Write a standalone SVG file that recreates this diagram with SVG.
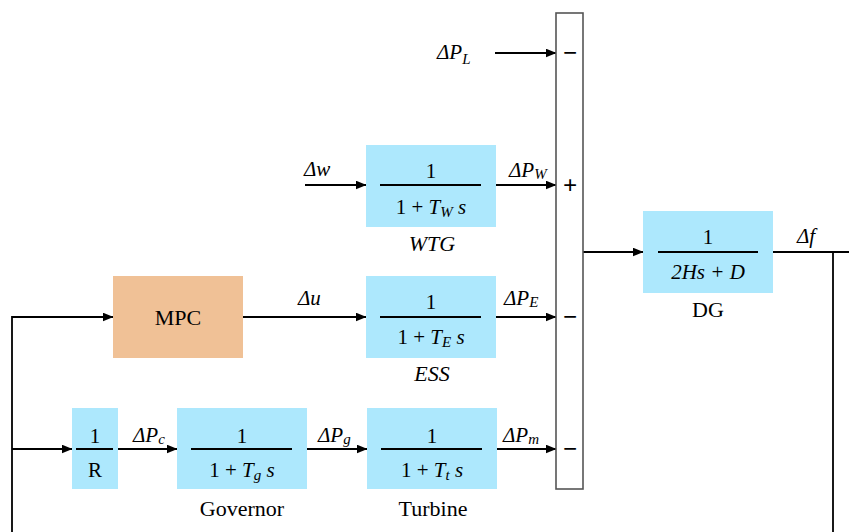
<svg xmlns="http://www.w3.org/2000/svg" width="849" height="532" viewBox="0 0 849 532" font-family="'Liberation Serif', Tinos, 'DejaVu Serif', serif">
  <style>
    .blk { fill: #ADE8FD; }
    .mpc { fill: #F0C196; }
    .frac { stroke: #000; stroke-width: 2; }
    .wire { stroke: #000; stroke-width: 1.8; fill: none; }
    .arr { marker-end: url(#ah); }
    text { font-family: 'Liberation Serif', Tinos, 'DejaVu Serif', serif; font-size: 21px; fill: #000; }
    .it { font-style: italic; }
    .sub { font-size: 15px; font-style: italic; }
    .mid { text-anchor: middle; }
    .cap { font-size: 22px; }
    .sign { font-size: 25px; font-weight: bold; text-anchor: middle; }
  </style>
  <defs>
    <marker id="ah" markerUnits="userSpaceOnUse" markerWidth="11" markerHeight="9" refX="10.5" refY="4.5" orient="auto">
      <path d="M0,0 L11,4.5 L0,9 z" fill="#000"/>
    </marker>
  </defs>

  <rect width="849" height="532" fill="#fff"/>

  <!-- connectors -->
  <g id="connectors">
    <line class="wire arr" x1="495" y1="53" x2="556" y2="53"/>
    <line class="wire arr" x1="305" y1="185" x2="366" y2="185"/>
    <line class="wire arr" x1="496" y1="185" x2="556" y2="185"/>
    <line class="wire arr" x1="243" y1="317" x2="366" y2="317"/>
    <line class="wire arr" x1="496" y1="317" x2="556" y2="317"/>
    <line class="wire arr" x1="12" y1="449" x2="72" y2="449"/>
    <line class="wire arr" x1="118" y1="449" x2="177" y2="449"/>
    <line class="wire arr" x1="307" y1="449" x2="367" y2="449"/>
    <line class="wire arr" x1="497" y1="449" x2="556" y2="449"/>
    <polyline class="wire arr" points="12,532 12,317 113,317"/>
    <line class="wire arr" x1="583" y1="252" x2="643" y2="252"/>
    <line class="wire" x1="773" y1="252" x2="849" y2="252"/>
    <line class="wire" x1="833" y1="252" x2="833" y2="532"/>

    <!-- signal labels -->
    <text class="it" x="437" y="59">ΔP<tspan class="sub" dy="5">L</tspan></text>
    <text class="it" x="304" y="176">Δw</text>
    <text class="it" x="509" y="177">ΔP<tspan class="sub" dy="2">W</tspan></text>
    <text class="it" x="298" y="305">Δu</text>
    <text class="it" x="504" y="305">ΔP<tspan class="sub" dy="2">E</tspan></text>
    <text class="it" x="133" y="442">ΔP<tspan class="sub" dy="2">c</tspan></text>
    <text class="it" x="318" y="442">ΔP<tspan class="sub" dy="2">g</tspan></text>
    <text class="it" x="503" y="442">ΔP<tspan class="sub" dy="2">m</tspan></text>
    <text class="it" x="797" y="243">Δf</text>
  </g>

  <!-- summing junction -->
  <g id="sum">
    <rect x="556" y="13" width="27" height="476" fill="#fff" stroke="#555" stroke-width="1.6"/>
    <text class="sign" x="570" y="61">−</text>
    <text class="sign" x="570" y="194">+</text>
    <text class="sign" x="570" y="325">−</text>
    <text class="sign" x="570" y="457">−</text>
  </g>

  <g id="wtg">
    <rect class="blk" x="366" y="145" width="130" height="82"/>
    <line class="frac" x1="380" y1="185" x2="481" y2="185"/>
    <text class="mid" x="431" y="178">1</text>
    <text class="mid" x="431" y="214">1 + <tspan class="it">T</tspan><tspan class="sub" dy="3">W</tspan><tspan class="it" dy="-3"> s</tspan></text>
    <text class="mid it cap" x="432" y="251">WTG</text>
  </g>

  <g id="mpc">
    <rect class="mpc" x="113" y="276" width="130" height="82"/>
    <text class="mid cap" x="178" y="325">MPC</text>
  </g>

  <g id="ess">
    <rect class="blk" x="366" y="276" width="130" height="82"/>
    <line class="frac" x1="380" y1="317" x2="481" y2="317"/>
    <text class="mid" x="431" y="309">1</text>
    <text class="mid" x="431" y="344">1 + <tspan class="it">T</tspan><tspan class="sub" dy="3">E</tspan><tspan class="it" dy="-3"> s</tspan></text>
    <text class="mid it cap" x="432" y="381">ESS</text>
  </g>

  <g id="droop">
    <rect class="blk" x="72" y="408" width="46" height="81"/>
    <line class="frac" x1="76" y1="449" x2="113" y2="449"/>
    <text class="mid" x="95" y="443">1</text>
    <text class="mid" x="95" y="477">R</text>
  </g>

  <g id="governor">
    <rect class="blk" x="177" y="408" width="130" height="81"/>
    <line class="frac" x1="191" y1="449" x2="292" y2="449"/>
    <text class="mid" x="242" y="443">1</text>
    <text class="mid" x="242" y="477">1 + <tspan class="it">T</tspan><tspan class="sub" dy="3">g</tspan><tspan class="it" dy="-3"> s</tspan></text>
    <text class="mid cap" x="242" y="516">Governor</text>
  </g>

  <g id="turbine">
    <rect class="blk" x="367" y="408" width="130" height="81"/>
    <line class="frac" x1="381" y1="449" x2="482" y2="449"/>
    <text class="mid" x="432" y="443">1</text>
    <text class="mid" x="432" y="477">1 + <tspan class="it">T</tspan><tspan class="sub" dy="3">t</tspan><tspan class="it" dy="-3"> s</tspan></text>
    <text class="mid cap" x="433" y="516">Turbine</text>
  </g>

  <g id="dg">
    <rect class="blk" x="643" y="211" width="130" height="82"/>
    <line class="frac" x1="658" y1="252" x2="758" y2="252"/>
    <text class="mid" x="708" y="244">1</text>
    <text class="mid it" x="708" y="279">2Hs + D</text>
    <text class="mid cap" x="708" y="317">DG</text>
  </g>
</svg>
